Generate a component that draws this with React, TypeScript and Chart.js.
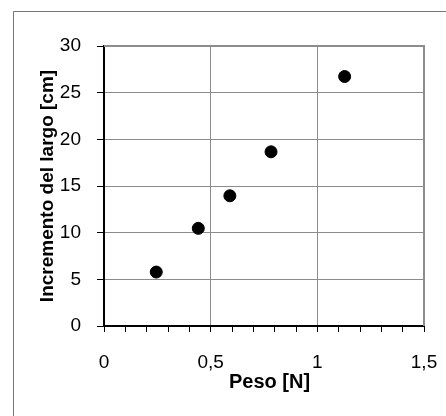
import React, { useEffect, useRef } from "react";
import { Chart, registerables } from "chart.js";

Chart.register(...registerables);

const pesoN = [0.245, 0.442, 0.59, 0.783, 1.128];
const incrementoCm = [5.78, 10.46, 13.95, 18.66, 26.73];
const xTitle = "  Peso [N]";
const yTitle = "Incremento del largo [cm]";
const xMajorTicks = [0, 0.5, 1, 1.5];

const FONT = "'Liberation Sans', Arial, sans-serif";

const framePlugin = {
  id: "frame",
  beforeDraw(chart: any) {
    const ctx = chart.ctx;
    ctx.save();
    ctx.fillStyle = "#fff";
    ctx.fillRect(0, 0, chart.width, chart.height);
    ctx.strokeStyle = "#777";
    ctx.lineWidth = 1;
    ctx.beginPath();
    ctx.moveTo(13.5, chart.height);
    ctx.lineTo(13.5, 11.5);
    ctx.lineTo(chart.width, 11.5);
    ctx.stroke();
    ctx.restore();
  },
  beforeDatasetsDraw(chart: any) {
    const { ctx, chartArea } = chart;
    ctx.save();
    ctx.strokeStyle = "#8c8c8c";
    ctx.lineWidth = 2;
    ctx.beginPath();
    ctx.moveTo(chartArea.left, chartArea.top);
    ctx.lineTo(chartArea.right, chartArea.top);
    ctx.lineTo(chartArea.right, chartArea.bottom);
    ctx.stroke();
    ctx.restore();
  },
};

const isMajor = (v: number) => xMajorTicks.some((m) => Math.abs(m - v) < 1e-6);

export default function App() {
  const ref = useRef<HTMLCanvasElement>(null);
  useEffect(() => {
    document.body.style.margin = "0";
    const chart = new Chart(ref.current!, {
      type: "scatter",
      data: {
        datasets: [
          {
            data: pesoN.map((x, i) => ({ x, y: incrementoCm[i] })),
            backgroundColor: "#000",
            borderColor: "#000",
            pointRadius: 6,
            pointHoverRadius: 6,
          },
        ],
      },
      options: {
        animation: false,
        responsive: false,
        layout: { padding: { left: 0, right: 22, top: 46, bottom: 0 } },
        plugins: { legend: { display: false }, tooltip: { enabled: false } },
        scales: {
          x: {
            type: "linear",
            min: 0,
            max: 1.5,
            afterFit: (s: any) => {
              s.height = 90;
              s.paddingLeft = 0;
              s.paddingRight = 0;
            },
            ticks: {
              stepSize: 0.1,
              autoSkip: false,
              maxRotation: 0,
              padding: 19,
              color: "#000",
              font: { family: FONT, size: 19 },
              callback: (v: any) => (isMajor(Number(v)) ? String(Math.round(Number(v) * 10) / 10).replace(".", ",") : ""),
            },
            grid: {
              color: (c: any) => (c.tick && isMajor(c.tick.value) ? "#8c8c8c" : "rgba(0,0,0,0)"),
              tickColor: "#000",
              tickLength: 6,
              lineWidth: 1,
            },
            border: { display: true, color: "#000", width: 2 },
            title: {
              display: true,
              text: xTitle,
              color: "#000",
              font: { family: FONT, size: 20, weight: "bold" },
              padding: { top: 0, bottom: 22 },
            },
          },
          y: {
            type: "linear",
            min: 0,
            max: 30,
            afterFit: (s: any) => {
              s.width = 104;
            },
            ticks: {
              stepSize: 5,
              padding: 16,
              color: "#000",
              font: { family: FONT, size: 19 },
            },
            grid: {
              color: "#8c8c8c",
              tickColor: "#000",
              tickLength: 7,
              lineWidth: 1,
            },
            border: { display: true, color: "#000", width: 2 },
            title: {
              display: true,
              text: yTitle,
              color: "#000",
              font: { family: FONT, size: 19, weight: "bold" },
              padding: { top: 36, bottom: 0 },
            },
          },
        },
      },
      plugins: [framePlugin],
    } as any);
    return () => chart.destroy();
  }, []);
  return (
    <div style={{ width: 446, height: 416 }}>
      <canvas ref={ref} width={446} height={416} />
    </div>
  );
}
